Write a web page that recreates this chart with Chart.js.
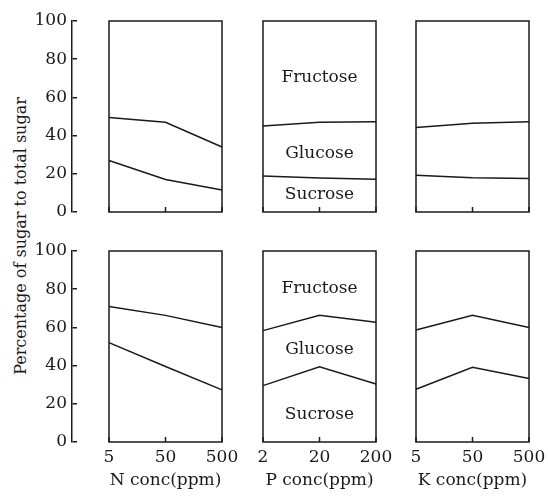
<!DOCTYPE html>
<html>
<head>
<meta charset="utf-8">
<script src="https://cdn.jsdelivr.net/npm/chart.js@4/dist/chart.umd.min.js"></script>
<style>
  html, body { margin: 0; padding: 0; background: #fff; }
  body { width: 548px; height: 496px; position: relative; overflow: hidden; }
  canvas { position: absolute; }
  #ytitle {
    position: absolute; left: 20px; top: 236px;
    transform: translate(-50%, -50%) rotate(-90deg);
    white-space: nowrap; font-family: "DejaVu Serif", serif; font-size: 16px; color: #1a1a1a;
  }
</style>
</head>
<body>
<div id="ytitle">Percentage of sugar to total sugar</div>
<script>
// ---- data ----
const N_LABELS = ['5', '50', '500'];
const P_LABELS = ['2', '20', '200'];
const K_LABELS = ['5', '50', '500'];
const Y_TICKS = [0, 20, 40, 60, 80, 100];

// cumulative boundaries: sucrose, sucrose+glucose (rest = fructose)
const topN_suc = [27, 17, 11.5];
const topN_sucGlu = [49.5, 47, 34];
const topP_suc = [18.8, 17.8, 17.1];
const topP_sucGlu = [45, 47, 47.2];
const topK_suc = [19.2, 17.9, 17.5];
const topK_sucGlu = [44.3, 46.5, 47.3];

const botN_suc = [52, 39.5, 27.3];
const botN_sucGlu = [71, 66.3, 60];
const botP_suc = [29.5, 39.4, 30.4];
const botP_sucGlu = [58.3, 66.3, 62.7];
const botK_suc = [27.6, 39.1, 33.3];
const botK_sucGlu = [58.6, 66.3, 60];

const SUGAR_NAMES = ['Fructose', 'Glucose', 'Sucrose'];

// ---- styling / layout ----
const INK = '#1a1a1a';
const FONT = '"DejaVu Serif", serif';
const ROW_TOP = [21, 251];
const PLOT_H = 191;
const PANEL_X = [109, 263, 416];
const PANEL_W = 113;
const SIDE = 25;
const XAXIS_H = 53;
const YPAD = 20;

Chart.defaults.font.family = FONT;
Chart.defaults.color = INK;

const framePlugin = {
  id: 'frame',
  afterDraw(chart, args, opts) {
    const { ctx, chartArea: a, scales: { x, y } } = chart;
    ctx.save();
    ctx.strokeStyle = INK;
    ctx.lineWidth = 1.5;
    ctx.strokeRect(a.left, a.top, a.right - a.left, a.bottom - a.top);
    chart.data.labels.forEach((l, i) => {
      const px = x.getPixelForValue(i);
      ctx.beginPath();
      ctx.moveTo(px, a.bottom);
      ctx.lineTo(px, a.bottom - 5);
      ctx.stroke();
    });
    if (opts.names) {
      ctx.fillStyle = INK;
      ctx.font = '17px ' + FONT;
      ctx.textAlign = 'center';
      ctx.textBaseline = 'middle';
      opts.names.forEach((n, i) => {
        ctx.fillText(n, x.getPixelForValue(1), y.getPixelForValue(opts.nameY[i]));
      });
    }
    ctx.restore();
  }
};

function makeCanvas(left, top, w, h) {
  const c = document.createElement('canvas');
  c.width = w; c.height = h;
  c.style.left = left + 'px'; c.style.top = top + 'px';
  c.style.width = w + 'px'; c.style.height = h + 'px';
  document.body.appendChild(c);
  return c;
}

function lineDs(data) {
  return { data, borderColor: INK, borderWidth: 1.5, pointRadius: 0, tension: 0, fill: false };
}

function panel(row, col, labels, suc, sucGlu, title, names, nameY) {
  const bottom = row === 1;
  const left = PANEL_X[col] - SIDE;
  const top = ROW_TOP[row] - 2;
  const w = PANEL_W + 2 * SIDE;
  const h = PLOT_H + 2 + (bottom ? XAXIS_H : 2);
  const c = makeCanvas(left, top, w, h);
  const xScale = {
    display: bottom, offset: false,
    grid: { display: false, drawTicks: false },
    border: { display: false },
    ticks: { font: { size: 17 }, color: INK, padding: 5, maxRotation: 0, autoSkip: false },
    title: { display: bottom, text: title, font: { size: 17 }, color: INK, padding: { top: 2, bottom: 4 } }
  };
  if (bottom) xScale.afterFit = s => { s.height = XAXIS_H; };
  new Chart(c, {
    type: 'line',
    data: { labels, datasets: [lineDs(suc), lineDs(sucGlu)] },
    options: {
      responsive: false, animation: false, devicePixelRatio: 1,
      layout: { padding: { left: SIDE, right: SIDE, top: 2, bottom: bottom ? 0 : 2 } },
      plugins: { legend: { display: false }, tooltip: { enabled: false },
        frame: { names, nameY } },
      scales: {
        x: xScale,
        y: { display: false, min: 0, max: 100 }
      }
    },
    plugins: [framePlugin]
  });
}

function yAxis(row) {
  const c = makeCanvas(0, ROW_TOP[row] - YPAD, 78, PLOT_H + 2 * YPAD);
  new Chart(c, {
    type: 'line',
    data: { labels: ['a'], datasets: [] },
    options: {
      responsive: false, animation: false, devicePixelRatio: 1,
      layout: { padding: { left: 0, right: 1, top: YPAD, bottom: YPAD } },
      plugins: { legend: { display: false }, tooltip: { enabled: false } },
      scales: {
        x: { display: false },
        y: {
          min: 0, max: 100,
          afterBuildTicks(s) { s.ticks = Y_TICKS.map(v => ({ value: v })); },
          afterFit(s) { s.width = 72; },
          ticks: { font: { size: 17 }, color: INK, padding: 5 },
          grid: { drawTicks: false, drawOnChartArea: true, color: INK, lineWidth: 1.5 },
          border: { display: true, color: INK, width: 1.5 }
        }
      }
    }
  });
}

yAxis(0);
yAxis(1);

panel(0, 0, N_LABELS, topN_suc, topN_sucGlu, 'N conc(ppm)');
panel(0, 1, P_LABELS, topP_suc, topP_sucGlu, 'P conc(ppm)', SUGAR_NAMES, [70.5, 30.7, 9.3]);
panel(0, 2, K_LABELS, topK_suc, topK_sucGlu, 'K conc(ppm)');
panel(1, 0, N_LABELS, botN_suc, botN_sucGlu, 'N conc(ppm)');
panel(1, 1, P_LABELS, botP_suc, botP_sucGlu, 'P conc(ppm)', SUGAR_NAMES, [80.2, 48.2, 14.2]);
panel(1, 2, K_LABELS, botK_suc, botK_sucGlu, 'K conc(ppm)');
</script>
</body>
</html>
